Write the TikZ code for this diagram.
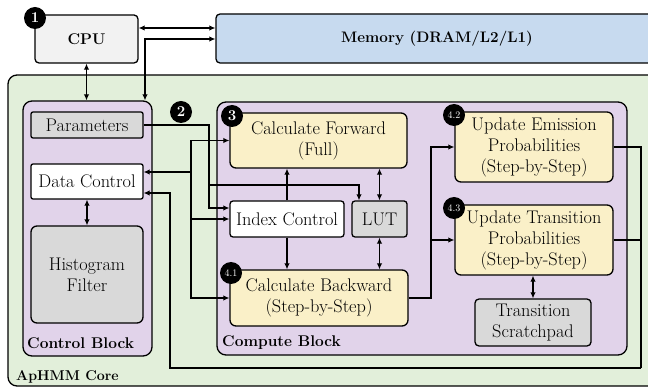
\documentclass[tikz,border=0pt]{standalone}
\usetikzlibrary{arrows.meta,calc}
\definecolor{cpugray}{HTML}{F2F2F2}
\definecolor{memblue}{HTML}{C7DAEF}
\definecolor{coregreen}{HTML}{E2EFDA}
\definecolor{blockpurple}{HTML}{E1D3EA}
\definecolor{calcyellow}{HTML}{FAF0C8}
\definecolor{boxgray}{HTML}{D9D9D9}
\begin{document}
\begin{tikzpicture}[x=1pt,y=-1pt,
  txt/.style={font=\fontsize{18.3}{21}\selectfont},
  lbl/.style={font=\fontsize{15.5}{17}\selectfont\bfseries, inner sep=0pt},
  box/.style={draw, line width=1.3pt, rounded corners=4pt, inner sep=0pt, align=center, txt},
  blk/.style={draw, line width=1.3pt, rounded corners=9pt, inner sep=0pt},
  wthin/.style={line width=1.2pt},
  wthick/.style={line width=1.9pt},
  tip/.style={-{Latex[length=6pt,width=5.5pt]}},
  dtip/.style={{Latex[length=6pt,width=5.5pt]}-{Latex[length=6pt,width=5.5pt]}},
  badge/.style={circle, fill=black, text=white, inner sep=0pt, minimum size=22pt}
]
\useasboundingbox (0,0) rectangle (648,387);
% outer core
\node[blk, fill=coregreen, minimum width=652pt, minimum height=311pt] (core) at (334,230.5) {};
\node[lbl, anchor=west, font=\fontsize{14.2}{17}\selectfont\bfseries] (corelbl) at (16,377) {ApHMM Core};
% top row
\node[box, fill=cpugray, minimum width=103pt, minimum height=48pt, font=\fontsize{15.5}{17}\selectfont\bfseries] (cpu) at (86.5,39) {CPU};
\node[box, fill=memblue, minimum width=442pt, minimum height=49pt, font=\fontsize{15.2}{17}\selectfont\bfseries] (mem) at (437,38.5) {Memory (DRAM/L2/L1)};
% blocks
\node[blk, fill=blockpurple, minimum width=129pt, minimum height=255pt] (ctrl) at (87.5,228.5) {};
\node[lbl, anchor=west] (ctrllbl) at (27,343) {Control Block};
\node[blk, fill=blockpurple, minimum width=410pt, minimum height=253pt] (comp) at (422,228.5) {};
\node[lbl, anchor=west] (complbl) at (222,343) {Compute Block};
% control boxes
\node[box, fill=boxgray, rounded corners=2pt, minimum width=112pt, minimum height=26pt] (par) at (87,125) {Parameters};
\node[box, fill=white, rounded corners=2pt, minimum width=112pt, minimum height=35pt] (dc) at (87,181.5) {Data Control};
\node[box, fill=boxgray, rounded corners=6pt, minimum width=112pt, minimum height=97pt] (hist) at (87,274.5) {Histogram\\Filter};
% compute boxes
\node[box, fill=calcyellow, rounded corners=6pt, minimum width=177pt, minimum height=55pt] (fwd) at (318.5,140.5) {Calculate Forward\\(Full)};
\node[box, fill=white, rounded corners=3pt, minimum width=114pt, minimum height=36pt] (idx) at (287,219) {Index Control};
\node[box, fill=boxgray, rounded corners=3pt, minimum width=55pt, minimum height=36pt] (lut) at (379.5,219) {LUT};
\node[box, fill=calcyellow, rounded corners=6pt, minimum width=178pt, minimum height=56pt] (bwd) at (319,298) {Calculate Backward\\(Step-by-Step)};
\node[box, fill=calcyellow, rounded corners=6pt, minimum width=158pt, minimum height=70pt] (emi) at (534,147) {Update Emission\\Probabilities\\(Step-by-Step)};
\node[box, fill=calcyellow, rounded corners=6pt, minimum width=158pt, minimum height=70pt] (trans) at (534,240) {Update Transition\\Probabilities\\(Step-by-Step)};
\node[box, fill=boxgray, rounded corners=4pt, minimum width=116pt, minimum height=47pt] (scr) at (533,322.5) {Transition\\Scratchpad};
% coordinates
\coordinate (m1) at (145,39);
\coordinate (p1) at (209,125);
\coordinate (p2) at (209,185);
\coordinate (b1) at (191,172);
\coordinate (r1) at (641,368);
\coordinate (r2) at (170,368);
\coordinate (c1) at (431,298);
% CPU / memory wires
\draw[wthin,dtip] (cpu.east |- {(0,28)}) -- (mem.west |- {(0,28)});
\draw[wthin,dtip] (m1 |- ctrl.north) -- (m1) -- (m1 -| mem.west);
\draw[wthin,dtip] (cpu.south) -- (cpu.south |- ctrl.north);
\draw[wthin,dtip] (dc.south) -- (hist.north);
% parameters
\draw[wthin,tip] (par.east) -- (p1) |- ([yshift=11pt]idx.west);
\draw[wthin,tip] (p2) -| ([xshift=-20.5pt]lut.north);
% data control bus
\draw[wthick,tip] (b1) -- (b1 -| dc.east);
\draw[wthick,tip] (b1) |- (fwd.west);
\draw[wthick,tip] (b1) |- (idx.west);
\draw[wthick,tip] (b1) |- (bwd.west);
% feedback bus
\draw[wthin] (emi.east) -| (r1);
\draw[wthin] (trans.east) -- (trans.east -| r1);
\draw[wthick,tip] (r1) -- (r2) |- ([yshift=-11.5pt]dc.east);
% backward to updates
\draw[wthick,tip] (bwd.east) -- (c1) |- (emi.west);
\draw[wthick,tip] (c1 |- trans.west) -- (trans.west);
% compute internal
\draw[wthin,tip] (idx.north) -- (idx.north |- fwd.south);
\draw[wthin,tip] (idx.south) -- (idx.south |- bwd.north);
\draw[wthin,dtip] (lut.north) -- (lut.north |- fwd.south);
\draw[wthin,dtip] (lut.south) -- (lut.south |- bwd.north);
\draw[wthin,dtip] (trans.south -| scr.north) -- (scr.north);
% badges
\node[badge, font=\fontsize{15}{15}\selectfont\bfseries] (n1) at (35,18) {1};
\node[badge, font=\fontsize{15}{15}\selectfont\bfseries] (n2) at (181,112) {2};
\node[badge, font=\fontsize{15}{15}\selectfont\bfseries] (n3) at (232,116) {3};
\node[badge, font=\fontsize{10}{10}\selectfont] (n41) at (231,273) {4.1};
\node[badge, font=\fontsize{10}{10}\selectfont] (n42) at (454,115) {4.2};
\node[badge, font=\fontsize{10}{10}\selectfont] (n43) at (454,208) {4.3};
\end{tikzpicture}
\end{document}
